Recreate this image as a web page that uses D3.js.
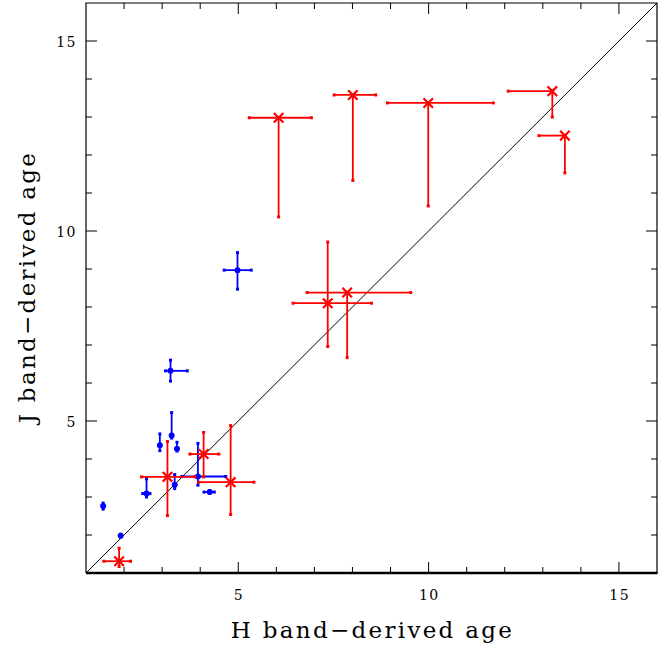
<!DOCTYPE html>
<html><head><meta charset="utf-8">
<script src="https://cdn.jsdelivr.net/npm/d3@7"></script>
<style>body{margin:0;background:#fff}svg{display:block}text{font-family:"DejaVu Serif",serif;fill:#000}</style>
</head><body><svg id="c" width="664" height="652"></svg>
<script>
// Blue sample: H age, J age, and error bounds
const blueH    = [1.45, 1.91, 2.59, 2.94, 3.25, 3.39, 3.33, 3.94, 4.25, 4.98, 3.22];
const blueJ    = [2.76, 1.98, 3.09, 4.36, 4.62, 4.27, 3.32, 3.54, 3.13, 8.97, 6.32];
const blueHLo  = [1.45, 1.91, 2.49, 2.94, 3.25, 3.39, 3.33, 3.52, 4.10, 4.63, 3.09];
const blueHHi  = [1.45, 1.91, 2.68, 2.94, 3.25, 3.39, 3.33, 4.67, 4.37, 5.34, 3.66];
const blueJLo  = [2.68, 1.95, 3.00, 4.22, 4.55, 4.21, 3.22, 3.31, 3.10, 8.47, 6.05];
const blueJHi  = [2.84, 2.02, 3.48, 4.66, 5.22, 4.44, 3.59, 4.41, 3.17, 9.43, 6.60];
// Red sample
const redH     = [1.87, 3.14, 4.09, 4.80, 7.35, 7.86, 6.06, 8.01, 9.99, 13.25, 13.58];
const redJ     = [1.31, 3.53, 4.13, 3.39, 8.10, 8.38, 12.98, 13.58, 13.37, 13.68, 12.51];
const redHLo   = [1.47, 2.46, 3.73, 3.96, 6.44, 6.81, 5.29, 7.52, 8.92, 12.09, 12.90];
const redHHi   = [2.17, 3.86, 4.49, 5.41, 8.50, 9.53, 6.92, 8.61, 11.70, 13.25, 13.58];
const redJLo   = [1.17, 2.51, 3.53, 2.54, 6.96, 6.67, 10.37, 11.33, 10.66, 13.00, 11.53];
const redJHi   = [1.65, 4.46, 4.70, 4.88, 9.71, 8.38, 12.98, 13.58, 13.37, 13.68, 12.51];
const majorTicks = [5, 10, 15];
const domain = [1, 16];

const L = 86, R = 657, T = 3, B = 573;
const svg = d3.select("#c");
const x = d3.scaleLinear().domain(domain).range([L, R]);
const y = d3.scaleLinear().domain(domain).range([B, T]);
const minor = d3.range(2, 16);

const g = svg.append("g");
// diagonal
g.append("line").attr("x1", x(1)).attr("y1", y(1)).attr("x2", x(16)).attr("y2", y(16))
  .attr("stroke", "#000").attr("stroke-width", 1);

// ticks
const tk = svg.append("g").attr("stroke", "#000").attr("stroke-width", 1);
minor.forEach(v => {
  const len = majorTicks.includes(v) ? 11 : 6;
  tk.append("line").attr("x1", x(v)).attr("x2", x(v)).attr("y1", B).attr("y2", B - len);
  tk.append("line").attr("x1", x(v)).attr("x2", x(v)).attr("y1", T).attr("y2", T + len);
  tk.append("line").attr("y1", y(v)).attr("y2", y(v)).attr("x1", L).attr("x2", L + len);
  tk.append("line").attr("y1", y(v)).attr("y2", y(v)).attr("x1", R).attr("x2", R - len);
});

function drawSet(H, J, HLo, HHi, JLo, JHi, color, kind) {
  const s = svg.append("g").attr("stroke", color).attr("stroke-width", 1.8).attr("stroke-linecap", "square");
  H.forEach((h, i) => {
    if (HHi[i] > HLo[i]) s.append("line").attr("x1", x(HLo[i])).attr("x2", x(HHi[i])).attr("y1", y(J[i])).attr("y2", y(J[i]));
    if (JHi[i] > JLo[i]) s.append("line").attr("y1", y(JLo[i])).attr("y2", y(JHi[i])).attr("x1", x(h)).attr("x2", x(h));
    [[HLo[i], J[i]], [HHi[i], J[i]], [h, JLo[i]], [h, JHi[i]]].forEach(p => {
      svg.append("rect").attr("x", x(p[0]) - 1.5).attr("y", y(p[1]) - 1.5).attr("width", 3).attr("height", 3).attr("fill", color);
    });
    if (kind === "dot") {
      svg.append("circle").attr("cx", x(h)).attr("cy", y(J[i])).attr("r", 3).attr("fill", color);
    } else {
      const cx = x(h), cy = y(J[i]), d = 4;
      s.append("path").attr("d", `M${cx-d},${cy-d}L${cx+d},${cy+d}M${cx-d},${cy+d}L${cx+d},${cy-d}`).attr("stroke-width", 2.2);
    }
  });
}
drawSet(blueH, blueJ, blueHLo, blueHHi, blueJLo, blueJHi, "#0000ff", "dot");
drawSet(redH, redJ, redHLo, redHHi, redJLo, redJHi, "#ff0000", "star");

// frame
svg.append("path").attr("d", `M${L},${B}L${L},${T}L${R},${T}L${R},${B}`).attr("fill", "none").attr("stroke", "#000").attr("stroke-width", 1.2);
svg.append("line").attr("x1", L).attr("x2", R + 0.6).attr("y1", B).attr("y2", B).attr("stroke", "#000").attr("stroke-width", 2.5);

// tick labels
majorTicks.forEach(v => {
  svg.append("text").attr("x", x(v) + 0.7).attr("y", 600).attr("text-anchor", "middle").attr("font-size", 14).attr("letter-spacing", 1.5).text(v);
  svg.append("text").attr("x", 77).attr("y", y(v) + 5.5).attr("text-anchor", "end").attr("font-size", 14).attr("letter-spacing", 1.5).text(v);
});

// axis titles
svg.append("text").attr("x", x(8.5) + 1).attr("y", 638).attr("text-anchor", "middle").attr("font-size", 23).attr("letter-spacing", 2.3).text("H band\u2212derived age");
svg.append("text").attr("transform", `translate(35,${y(8.5) - 1}) rotate(-90)`).attr("text-anchor", "middle").attr("font-size", 23).attr("letter-spacing", 2.3).text("J band\u2212derived age");
</script></body></html>
